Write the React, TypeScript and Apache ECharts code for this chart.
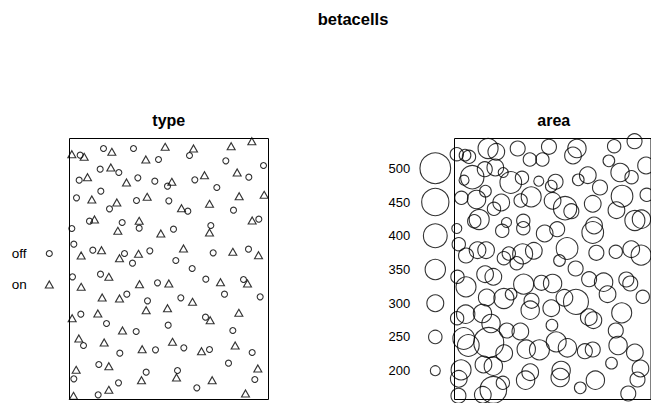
import React, { useEffect, useRef } from "react";
import * as echarts from "echarts";

const pointX = [547,485,287,372,102,192,127,7,32,44,360,229,267,469,582,92,124,148,503,405,538,54,29,205,171,256,307,376,294,442,94,509,584,21,67,233,201,298,142,420,120,336,355,492,75,60,158,209,548,568,7,209,145,312,274,424,420,13,35,70,96,342,165,150,207,241,431,490,537,567,319,189,368,9,93,118,35,210,264,298,409,453,522,534,465,572,98,150,172,334,369,234,230,294,508,8,34,85,408,422,111,296,490,159,200,28,42,104,309,343,218,258,396,420,497,548,151,477,88,118,565,20,230,324,321,13,216,428,147,556,382,118,86,528,12];
const pointY = [775,760,758,753,753,753,743,736,733,728,732,720,720,716,702,691,696,681,681,673,667,667,658,665,651,655,653,659,640,636,625,610,614,605,600,608,597,596,591,587,572,574,565,568,540,535,531,536,537,541,513,514,506,511,498,522,501,466,432,448,448,453,438,424,437,446,440,443,451,433,417,409,393,368,376,368,338,346,350,348,361,352,360,348,316,308,306,303,316,305,293,296,268,274,260,244,256,258,247,238,228,223,207,207,204,183,162,171,173,155,151,149,145,150,162,141,139,109,105,100,93,89,82,87,66,62,58,58,50,60,35,29,14,18,11];
const pointType = ["on","on","on","on","off","off","on","on","off","on","off","on","off","off","off","off","on","off","on","on","off","on","off","off","on","off","on","off","off","off","off","on","on","off","on","on","off","off","on","on","off","on","off","off","on","off","off","on","on","off","off","off","on","off","on","off","on","off","on","off","on","on","off","on","on","off","off","on","off","on","off","off","off","off","off","on","on","on","off","on","off","on","off","on","off","off","on","on","off","off","on","off","on","on","on","on","off","on","off","on","off","off","off","on","off","on","off","on","on","off","on","off","on","off","on","off","off","off","off","on","on","on","off","off","on","off","on","on","off","off","off","on","off","on","on"];
const pointArea = [272,248,272,321,345,272,297,248,224,248,297,248,248,224,297,272,297,200,321,297,248,393,200,248,369,200,272,224,224,272,224,369,248,248,321,345,248,297,297,297,248,393,272,297,345,248,200,248,345,321,200,248,248,272,297,297,369,248,272,297,297,369,248,248,345,297,272,248,297,345,224,248,272,248,297,297,345,345,272,321,272,321,272,272,297,248,297,345,224,297,417,272,321,297,345,248,321,321,297,297,321,224,272,272,297,369,369,490,345,321,321,345,272,272,321,297,297,224,297,321,297,345,297,321,321,297,321,321,248,272,224,441,297,272,272];

const markLevels = ["on", "off"];
const areaTicks = [200, 250, 300, 350, 400, 450, 500];

const WIN_W = 597;
const WIN_H = 783;
const FONT = "'Liberation Sans', Arial, Helvetica, sans-serif";

const areaDiameter = (v: number) => (v - 55) * 0.069;

export default function App() {
  const ref = useRef<HTMLDivElement>(null);
  useEffect(() => {
    if (!ref.current) return;
    const chart = echarts.init(ref.current, null, { renderer: "svg" });
    const offPts: number[][] = [];
    const onPts: number[][] = [];
    const areaPts: number[][] = [];
    pointX.forEach((x, i) => {
      const p = [x, pointY[i], pointArea[i]];
      if (pointType[i] === "off") offPts.push(p);
      else onPts.push(p);
      areaPts.push(p);
    });
    const gridCommon = { show: true, borderColor: "#000", borderWidth: 1, backgroundColor: "transparent", containLabel: false };
    const hiddenVal = (min: number, max: number, gridIndex: number) => ({
      type: "value", gridIndex, min, max, show: false,
    });
    const stroke = { color: "transparent", borderColor: "#000", borderWidth: 1.1 };
    const titleStyle = { fontFamily: FONT, fontSize: 16, fontWeight: "bold", color: "#000" };
    const option: any = {
      animation: false,
      backgroundColor: "#fff",
      textStyle: { fontFamily: FONT },
      title: [
        { text: "betacells", left: 353, top: 10, textAlign: "center", padding: 0, textStyle: { ...titleStyle, fontSize: 16.5 } },
        { text: "type", left: 168.8, top: 112, textAlign: "center", padding: 0, textStyle: titleStyle },
        { text: "area", left: 553.8, top: 112, textAlign: "center", padding: 0, textStyle: titleStyle },
      ],
      grid: [
        { ...gridCommon, left: 69.5, top: 138.5, width: 199, height: 261 },
        { ...gridCommon, left: 454.5, top: 138.5, width: 199, height: 261 },
        { show: false, left: 39.3, top: 238, width: 20, height: 62 },
        { show: false, left: 425.3, top: 168.3, width: 20, height: 202.4 },
      ],
      xAxis: [
        hiddenVal(0, WIN_W, 0),
        hiddenVal(0, WIN_W, 1),
        hiddenVal(-1, 1, 2),
        hiddenVal(-1, 1, 3),
      ],
      yAxis: [
        hiddenVal(0, WIN_H, 0),
        hiddenVal(0, WIN_H, 1),
        {
          type: "category", gridIndex: 2, data: markLevels,
          axisLine: { show: false }, axisTick: { show: false }, splitLine: { show: false },
          axisLabel: { align: "left", margin: 27.6, fontSize: 13.5, color: "#000", fontFamily: FONT },
        },
        {
          type: "value", gridIndex: 3, min: 200, max: 500, interval: 50,
          axisLine: { show: false }, axisTick: { show: false }, splitLine: { show: false },
          axisLabel: { margin: 15, fontSize: 13, color: "#000", fontFamily: FONT, formatter: (v: number) => (areaTicks.includes(v) ? String(v) : "") },
        },
      ],
      series: [
        {
          type: "scatter", xAxisIndex: 0, yAxisIndex: 0, data: offPts, symbol: "circle", symbolSize: 6, clip: false,
          itemStyle: stroke,
        },
        {
          type: "scatter", xAxisIndex: 0, yAxisIndex: 0, data: onPts, symbol: "triangle", symbolSize: [8, 7], clip: false,
          itemStyle: stroke,
        },
        {
          type: "scatter", xAxisIndex: 1, yAxisIndex: 1, data: areaPts, symbol: "circle", clip: false,
          symbolSize: (v: number[]) => areaDiameter(v[2]),
          itemStyle: stroke,
        },
        {
          type: "scatter", xAxisIndex: 2, yAxisIndex: 2, symbol: "circle", symbolSize: 6, clip: false,
          data: [[0, "off"]],
          itemStyle: stroke,
        },
        {
          type: "scatter", xAxisIndex: 2, yAxisIndex: 2, symbol: "triangle", symbolSize: [8, 7], clip: false,
          data: [[0, "on"]],
          itemStyle: stroke,
        },
        {
          type: "scatter", xAxisIndex: 3, yAxisIndex: 3, symbol: "circle", clip: false,
          data: areaTicks.map((v) => [0, v]),
          symbolSize: (v: number[]) => areaDiameter(v[1]),
          itemStyle: stroke,
        },
      ],
    };
    chart.setOption(option);
    return () => chart.dispose();
  }, []);
  return (
    <div
      ref={ref}
      style={{ position: "absolute", left: 0, top: 0, width: 651, height: 403, background: "#fff" }}
    />
  );
}
